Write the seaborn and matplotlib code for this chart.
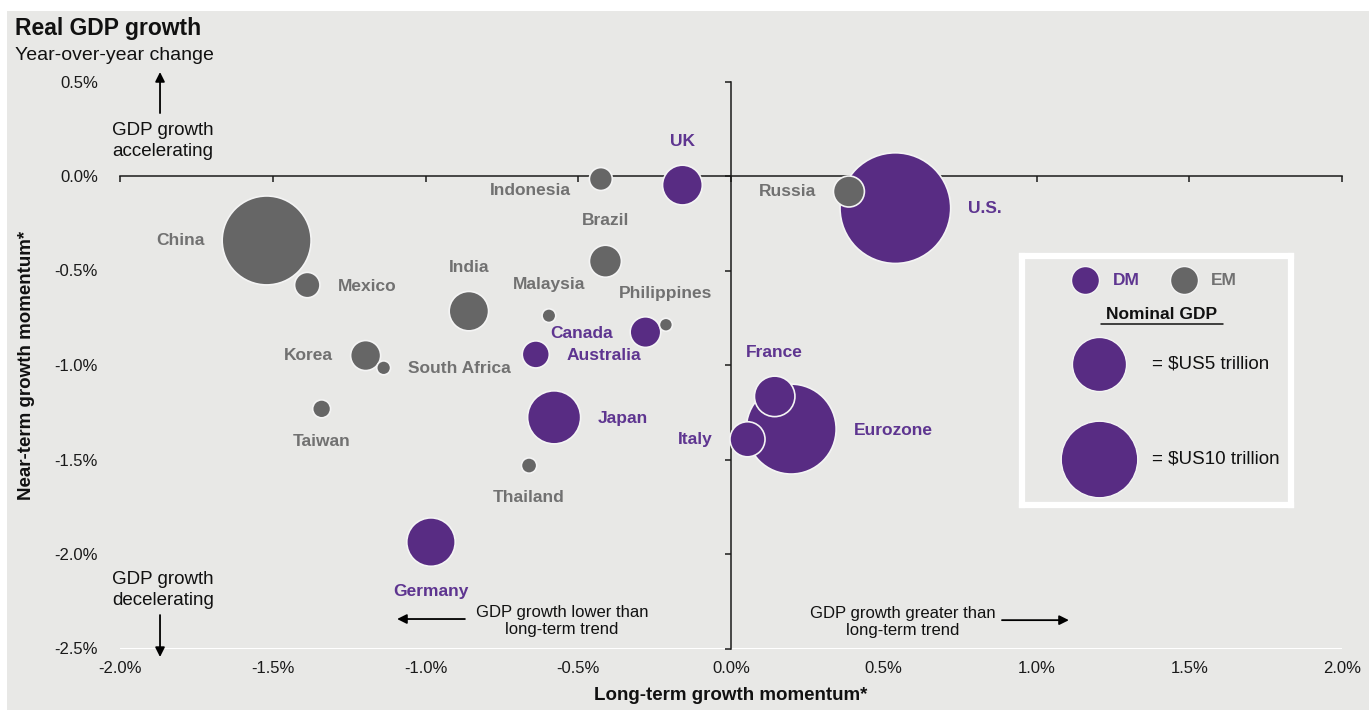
import numpy as np
import pandas as pd
import matplotlib
matplotlib.use("Agg")
import matplotlib.pyplot as plt
import seaborn as sns
from matplotlib.patches import Rectangle

# ---------------- data ----------------
countries = ["U.S.", "China", "Eurozone", "Japan", "Germany", "France", "UK", "India",
             "Italy", "Brazil", "Russia", "Canada", "Korea", "Australia", "Mexico",
             "Indonesia", "Taiwan", "Thailand", "South Africa", "Malaysia", "Philippines"]
groups = ["DM", "EM", "DM", "DM", "DM", "DM", "DM", "EM", "DM", "EM", "EM", "DM", "EM",
          "DM", "EM", "EM", "EM", "EM", "EM", "EM", "EM"]
long_term = [0.538, -1.52, 0.197, -0.579, -0.982, 0.143, -0.159, -0.858, 0.054, -0.411,
             0.386, -0.280, -1.196, -0.639, -1.387, -0.426, -1.340, -0.661, -1.137,
             -0.596, -0.213]
near_term = [-0.170, -0.341, -1.339, -1.277, -1.937, -1.166, -0.048, -0.715, -1.393,
             -0.451, -0.082, -0.826, -0.950, -0.944, -0.577, -0.016, -1.232, -1.532,
             -1.015, -0.739, -0.787]
nominal_gdp = [20.9, 13.5, 13.8, 4.8, 4.0, 2.8, 2.7, 2.65, 2.1, 1.75, 1.64, 1.6, 1.54,
               1.25, 1.1, 0.9, 0.55, 0.4, 0.33, 0.32, 0.29]   # $US trillion
legend_gdp = [5, 10]
x_ticks = [-2.0, -1.5, -1.0, -0.5, 0.0, 0.5, 1.0, 1.5, 2.0]
y_ticks = [0.5, 0.0, -0.5, -1.0, -1.5, -2.0, -2.5]
x_tick_labels = ["-2.0%", "-1.5%", "-1.0%", "-0.5%", "0.0%", "0.5%", "1.0%", "1.5%", "2.0%"]
y_tick_labels = ["0.5%", "0.0%", "-0.5%", "-1.0%", "-1.5%", "-2.0%", "-2.5%"]

# ---------------- styles / layout ----------------
DPI = 100
W, H = 1369, 710
DM_COLOR = "#582c83"
EM_COLOR = "#666666"
DM_TEXT = "#5e3590"
EM_TEXT = "#717171"
BG = "#e8e8e6"
EDGE = "#f4f4f4"
AREA_PER_T = 303.6          # marker area (pt^2) per $US trillion
NORM_MAX = 25               # size normalisation ceiling ($US trillion)

# label offsets in pixels (dx right, dy down) relative to bubble centre
LABEL_OFFSET_PX = {
    "China": (-86, 0), "Mexico": (60, 1), "India": (0, -44), "Korea": (-57, 0),
    "South Africa": (76, 1), "Taiwan": (0, 33), "Indonesia": (-70, 11), "UK": (0, -44),
    "Brazil": (0, -41), "Malaysia": (0, -31), "Philippines": (0, -31), "Canada": (-64, 1),
    "Australia": (68, 1), "Japan": (69, 1), "Thailand": (0, 32), "Italy": (-52, 0),
    "France": (0, -44), "Eurozone": (102, 1), "Russia": (-61, 0), "U.S.": (90, 0),
    "Germany": (0, 49),
}

sns.set_style("white")
plt.rcParams["font.family"] = ["Liberation Sans", "DejaVu Sans"]

df = pd.DataFrame({"country": countries, "group": groups, "x": long_term,
                   "y": near_term, "gdp": nominal_gdp})

fig = plt.figure(figsize=(W / DPI, H / DPI), dpi=DPI, facecolor="white")
fig.patches.append(Rectangle((7 / W, 0), 1, 1 - 11 / H, transform=fig.transFigure,
                             facecolor=BG, edgecolor="none", zorder=-10))

ax = fig.add_axes([120 / W, 1 - 648.5 / H, (1342 - 120) / W, (648.5 - 81.5) / H])
ax.set_facecolor(BG)

sns.scatterplot(data=df, x="x", y="y", hue="group",
                palette={"DM": DM_COLOR, "EM": EM_COLOR},
                size="gdp", sizes=(0, AREA_PER_T * NORM_MAX), size_norm=(0, NORM_MAX),
                edgecolor=EDGE, linewidth=1.2, alpha=1, legend=False, ax=ax, zorder=3)

ax.set_xlim(-2.0, 2.0)
ax.set_ylim(-2.5, 0.5)
ax.set_xlabel("")
ax.set_ylabel("")

# cross-hair axes through zero
for s in ["top", "right"]:
    ax.spines[s].set_visible(False)
ax.spines["left"].set_position(("data", 0))
ax.spines["bottom"].set_position(("data", 0))
for s in ["left", "bottom"]:
    ax.spines[s].set_color("#1a1a1a")
    ax.spines[s].set_linewidth(1.1)
    ax.spines[s].set_zorder(2)
ax.set_xticks(x_ticks)
ax.set_yticks(y_ticks)
ax.tick_params(axis="both", direction="out", length=4, width=1.1, color="#1a1a1a",
               labelbottom=False, labelleft=False, bottom=True, left=True)

# tick labels at the frame edges
secx = ax.secondary_xaxis("bottom")
secx.set_xticks(x_ticks, labels=x_tick_labels)
secx.tick_params(length=0, pad=9, labelsize=12, labelcolor="#1a1a1a")
secx.spines["bottom"].set_visible(False)
secx.set_xlabel("Long-term growth momentum*", fontsize=13.5, fontweight="bold",
                labelpad=8, color="#111111")

secy = ax.secondary_yaxis("left")
secy.set_yticks(y_ticks, labels=y_tick_labels)
secy.tick_params(length=0, pad=16, labelsize=12, labelcolor="#1a1a1a")
secy.spines["left"].set_visible(False)
secy.set_ylabel("Near-term growth momentum*", fontsize=13.5, fontweight="bold",
                labelpad=14, color="#111111")

# country labels
px2pt = 72 / DPI
for name, grp, xv, yv in zip(countries, groups, long_term, near_term):
    dx, dy = LABEL_OFFSET_PX[name]
    ax.annotate(name, xy=(xv, yv), xytext=(dx * px2pt, -dy * px2pt),
                textcoords="offset points", ha="center", va="center",
                fontsize=12.5, fontweight="bold",
                color=DM_TEXT if grp == "DM" else EM_TEXT, zorder=4)

# direction annotations
arrow_kw = dict(arrowstyle="-|>", color="black", lw=1.3, mutation_scale=14,
                shrinkA=0, shrinkB=0)
ax.annotate("", xy=(-1.869, 0.55), xytext=(-1.869, 0.333), arrowprops=arrow_kw,
            annotation_clip=False)
ax.text(-1.859, 0.185, "GDP growth\naccelerating", ha="center", va="center",
        fontsize=13.5, linespacing=1.25, color="#111111")
ax.annotate("", xy=(-1.869, -2.545), xytext=(-1.869, -2.323), arrowprops=arrow_kw,
            annotation_clip=False)
ax.text(-1.859, -2.19, "GDP growth\ndecelerating", ha="center", va="center",
        fontsize=13.5, linespacing=1.25, color="#111111")
ax.annotate("", xy=(-1.093, -2.344), xytext=(-0.871, -2.344), arrowprops=arrow_kw)
ax.text(-0.553, -2.354, "GDP growth lower than\nlong-term trend", ha="center",
        va="center", fontsize=12, linespacing=1.2, color="#111111")
ax.annotate("", xy=(1.106, -2.35), xytext=(0.887, -2.35), arrowprops=arrow_kw)
ax.text(0.563, -2.36, "GDP growth greater than\nlong-term trend", ha="center",
        va="center", fontsize=12, linespacing=1.2, color="#111111")

# titles
fig.text(15 / W, 1 - 29 / H, "Real GDP growth", fontsize=16.5, fontweight="bold",
         ha="left", va="center", color="#111111")
fig.text(15 / W, 1 - 56 / H, "Year-over-year change", fontsize=14, ha="left",
         va="center", color="#111111")

# custom legend box (coordinates in figure pixels, y downward)
lax = fig.add_axes([1022 / W, 1 - 505 / H, 269 / W, 249 / H], zorder=5)
lax.set_xlim(1022, 1291)
lax.set_ylim(505, 256)
lax.set_facecolor(BG)
lax.set_xticks([])
lax.set_yticks([])
for s in lax.spines.values():
    s.set_color("white")
    s.set_linewidth(4.5)
lax.scatter([1085], [280], s=406, color=DM_COLOR, edgecolor=EDGE, linewidth=1)
lax.text(1113, 280, "DM", fontsize=12.5, fontweight="bold", color=DM_TEXT,
         ha="left", va="center")
lax.scatter([1184], [280], s=406, color=EM_COLOR, edgecolor=EDGE, linewidth=1)
lax.text(1211, 280, "EM", fontsize=12.5, fontweight="bold", color=EM_TEXT,
         ha="left", va="center")
lax.text(1162, 314, "Nominal GDP", fontsize=12.5, fontweight="bold", color="#111111",
         ha="center", va="center")
lax.plot([1101, 1223], [323.5, 323.5], color="#111111", lw=1.1)
for g, yc in zip(legend_gdp, [364, 459]):
    lax.scatter([1099], [yc], s=AREA_PER_T * g, color=DM_COLOR, edgecolor=EDGE,
                linewidth=1)
    lax.text(1152, yc, f"= $US{g} trillion", fontsize=13.5, color="#111111",
             ha="left", va="center")

fig.savefig("out.png", dpi=DPI, facecolor="white")
